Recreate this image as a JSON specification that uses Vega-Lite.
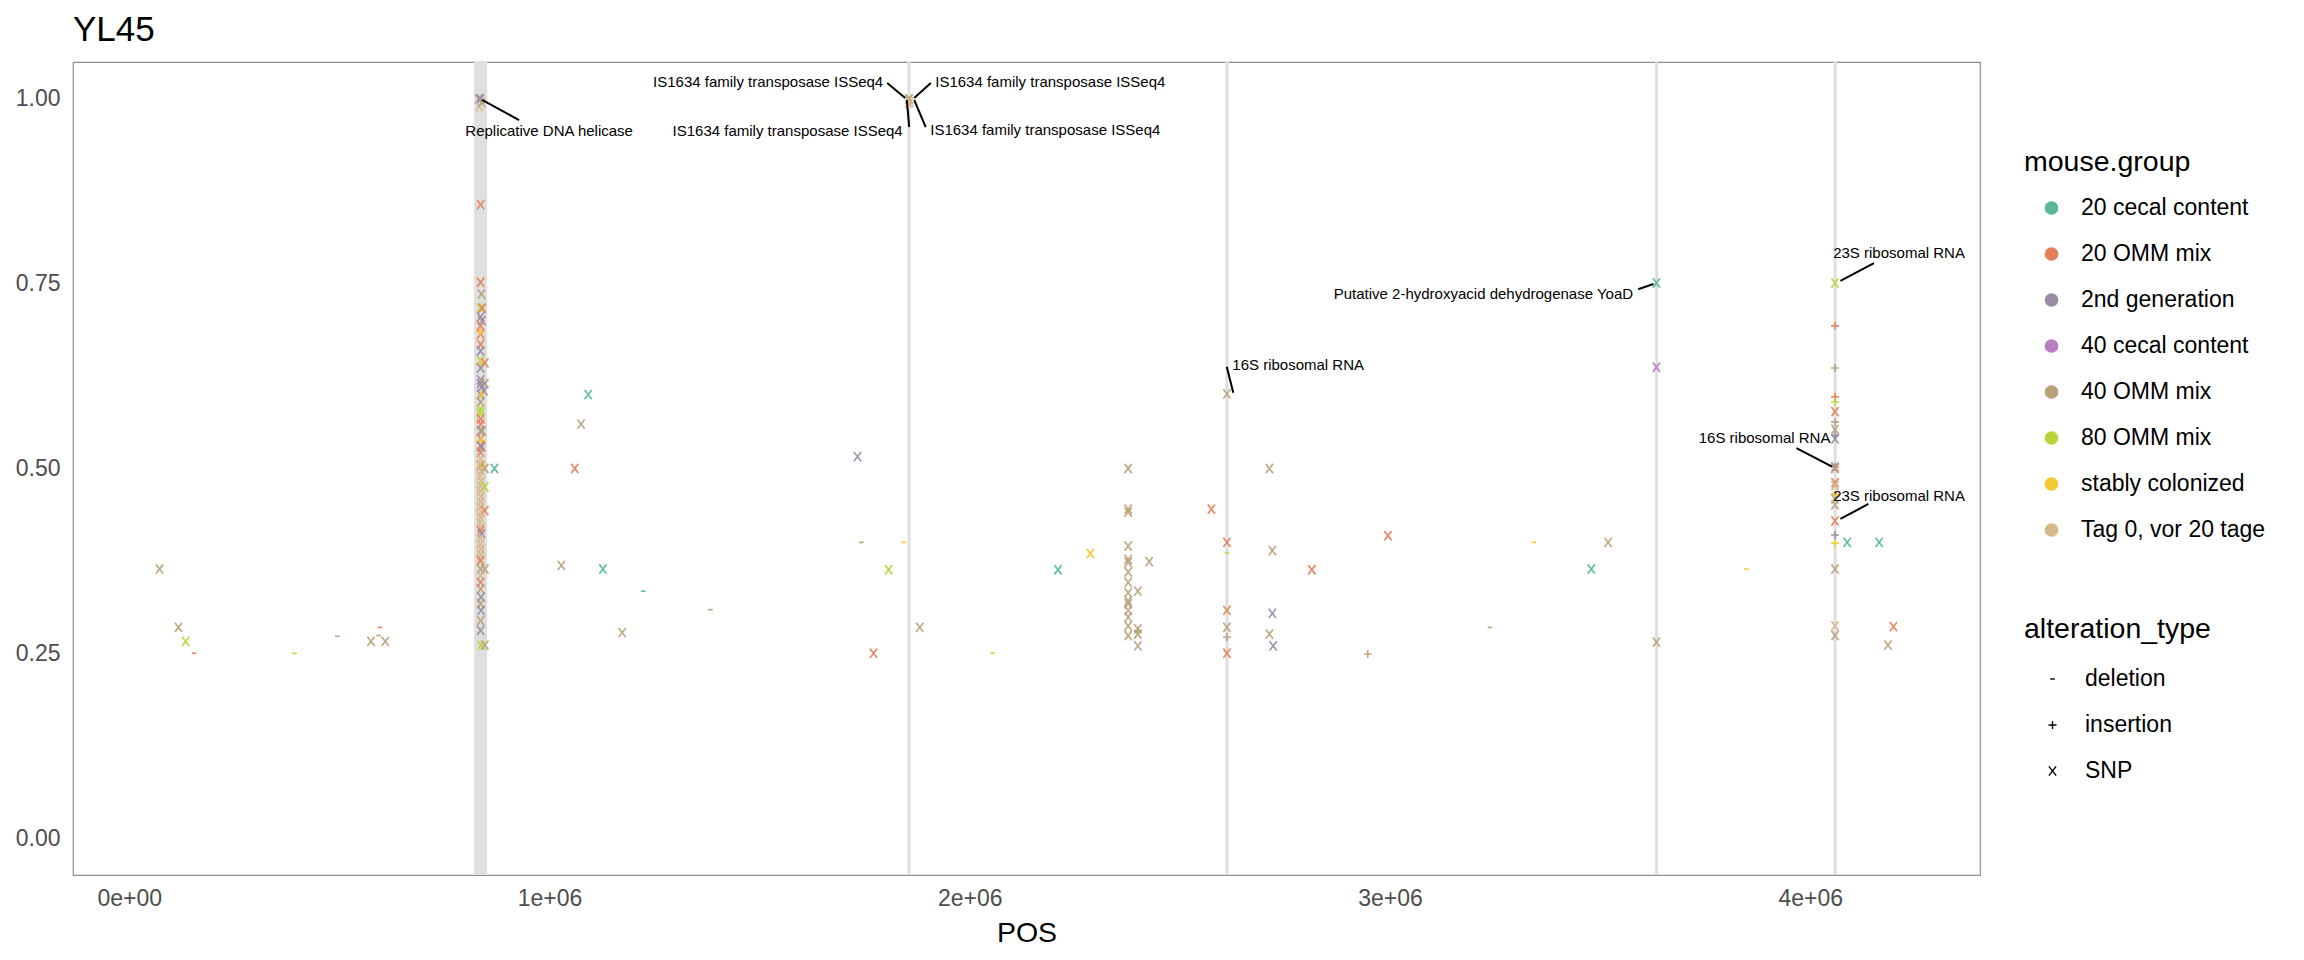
{
  "$schema": "https://vega.github.io/schema/vega-lite/v6.json",
  "width": 1907,
  "height": 813,
  "autosize": {"type": "none"},
  "padding": {"left": 73, "top": 62, "right": 324, "bottom": 85},
  "background": "white",
  "title": {"text": "YL45", "anchor": "start", "frame": "group", "fontSize": 35, "fontWeight": "normal", "font": "Liberation Sans", "color": "black", "offset": 13},
  "config": {
    "font": "Liberation Sans",
    "view": {"stroke": "#8f8f8f", "strokeWidth": 1.2},
    "axis": {"grid": false, "ticks": false, "tickSize": 0, "domain": false, "labelFont": "Liberation Sans", "labelFontSize": 23, "labelColor": "#4d4d4d", "titleFont": "Liberation Sans", "titleFontSize": 28.5, "titleFontWeight": "normal", "titleColor": "black"},
    "legend": {"padding": 0, "titleFont": "Liberation Sans", "titleFontSize": 28.5, "titleFontWeight": "normal", "titleColor": "black", "labelFont": "Liberation Sans", "labelFontSize": 23, "labelColor": "black", "labelLimit": 400, "titleLimit": 400, "symbolOpacity": 1}
  },
  "datasets": {
    "band": [{"start": 820500, "end": 851500}],
    "vlines": [{"pos": 1855200}, {"pos": 2612100}, {"pos": 3634400}, {"pos": 4059300}],
    "segs": [
      {"pos": 839500, "af": 0.9986, "pos2": 927600, "af2": 0.9715},
      {"pos": 1803500, "af": 1.0216, "pos2": 1846400, "af2": 1.0013},
      {"pos": 1907300, "af": 1.0216, "pos2": 1867800, "af2": 1.0013},
      {"pos": 1850200, "af": 0.9986, "pos2": 1855900, "af2": 0.962},
      {"pos": 1867800, "af": 0.9986, "pos2": 1895200, "af2": 0.962},
      {"pos": 2611600, "af": 0.6377, "pos2": 2627100, "af2": 0.6026},
      {"pos": 3590700, "af": 0.7425, "pos2": 3626800, "af2": 0.7496},
      {"pos": 4151700, "af": 0.778, "pos2": 4071900, "af2": 0.7537},
      {"pos": 3967200, "af": 0.5277, "pos2": 4051900, "af2": 0.5024},
      {"pos": 4138400, "af": 0.452, "pos2": 4071900, "af2": 0.4317}
    ],
    "labelsL": [
      {"pos": 1917800, "af": 1.023, "label": "IS1634 family transposase ISSeq4"},
      {"pos": 1905900, "af": 0.958, "label": "IS1634 family transposase ISSeq4"},
      {"pos": 2624700, "af": 0.640, "label": "16S ribosomal RNA"},
      {"pos": 4054600, "af": 0.792, "label": "23S ribosomal RNA"},
      {"pos": 4054600, "af": 0.463, "label": "23S ribosomal RNA"}
    ],
    "labelsR": [
      {"pos": 1794000, "af": 1.023, "label": "IS1634 family transposase ISSeq4"},
      {"pos": 1840400, "af": 0.957, "label": "IS1634 family transposase ISSeq4"},
      {"pos": 3578500, "af": 0.736, "label": "Putative 2-hydroxyacid dehydrogenase YoaD"},
      {"pos": 4048100, "af": 0.541, "label": "16S ribosomal RNA"}
    ],
    "labelsC": [
      {"pos": 999000, "af": 0.957, "label": "Replicative DNA helicase"}
    ],
    "pts": [
      {"pos": 72000, "af": 0.364, "group": "40 OMM mix", "type": "SNP"},
      {"pos": 117000, "af": 0.285, "group": "40 OMM mix", "type": "SNP"},
      {"pos": 134000, "af": 0.266, "group": "80 OMM mix", "type": "SNP"},
      {"pos": 154000, "af": 0.250, "group": "20 OMM mix", "type": "deletion"},
      {"pos": 393000, "af": 0.250, "group": "80 OMM mix", "type": "deletion"},
      {"pos": 495000, "af": 0.273, "group": "40 OMM mix", "type": "deletion"},
      {"pos": 575000, "af": 0.266, "group": "40 OMM mix", "type": "SNP"},
      {"pos": 596000, "af": 0.285, "group": "20 OMM mix", "type": "deletion"},
      {"pos": 593000, "af": 0.274, "group": "40 OMM mix", "type": "deletion"},
      {"pos": 609000, "af": 0.266, "group": "40 OMM mix", "type": "SNP"},
      {"pos": 832000, "af": 1.000, "group": "2nd generation", "type": "SNP"},
      {"pos": 836000, "af": 1.000, "group": "2nd generation", "type": "SNP"},
      {"pos": 833000, "af": 0.990, "group": "Tag 0, vor 20 tage", "type": "SNP"},
      {"pos": 838000, "af": 0.995, "group": "40 OMM mix", "type": "SNP"},
      {"pos": 836000, "af": 0.857, "group": "20 OMM mix", "type": "SNP"},
      {"pos": 836000, "af": 0.752, "group": "20 OMM mix", "type": "SNP"},
      {"pos": 838000, "af": 0.736, "group": "40 OMM mix", "type": "SNP"},
      {"pos": 836000, "af": 0.717, "group": "80 OMM mix", "type": "SNP"},
      {"pos": 840000, "af": 0.717, "group": "20 OMM mix", "type": "SNP"},
      {"pos": 836000, "af": 0.705, "group": "2nd generation", "type": "SNP"},
      {"pos": 839000, "af": 0.700, "group": "2nd generation", "type": "SNP"},
      {"pos": 836000, "af": 0.693, "group": "20 OMM mix", "type": "SNP"},
      {"pos": 836000, "af": 0.682, "group": "20 OMM mix", "type": "SNP"},
      {"pos": 835000, "af": 0.685, "group": "stably colonized", "type": "insertion"},
      {"pos": 836000, "af": 0.668, "group": "20 OMM mix", "type": "SNP"},
      {"pos": 836000, "af": 0.659, "group": "2nd generation", "type": "SNP"},
      {"pos": 836000, "af": 0.646, "group": "80 OMM mix", "type": "SNP"},
      {"pos": 846000, "af": 0.643, "group": "20 OMM mix", "type": "SNP"},
      {"pos": 835000, "af": 0.642, "group": "stably colonized", "type": "insertion"},
      {"pos": 836000, "af": 0.636, "group": "2nd generation", "type": "SNP"},
      {"pos": 836000, "af": 0.620, "group": "2nd generation", "type": "SNP"},
      {"pos": 836000, "af": 0.615, "group": "2nd generation", "type": "SNP"},
      {"pos": 846000, "af": 0.615, "group": "40 OMM mix", "type": "SNP"},
      {"pos": 838000, "af": 0.610, "group": "2nd generation", "type": "SNP"},
      {"pos": 844000, "af": 0.605, "group": "2nd generation", "type": "SNP"},
      {"pos": 836000, "af": 0.600, "group": "2nd generation", "type": "SNP"},
      {"pos": 838000, "af": 0.600, "group": "stably colonized", "type": "insertion"},
      {"pos": 836000, "af": 0.590, "group": "40 OMM mix", "type": "SNP"},
      {"pos": 836000, "af": 0.580, "group": "80 OMM mix", "type": "SNP"},
      {"pos": 836000, "af": 0.575, "group": "80 OMM mix", "type": "SNP"},
      {"pos": 836000, "af": 0.567, "group": "20 OMM mix", "type": "SNP"},
      {"pos": 836000, "af": 0.560, "group": "20 OMM mix", "type": "SNP"},
      {"pos": 836000, "af": 0.551, "group": "2nd generation", "type": "SNP"},
      {"pos": 840000, "af": 0.551, "group": "40 OMM mix", "type": "SNP"},
      {"pos": 836000, "af": 0.540, "group": "20 OMM mix", "type": "SNP"},
      {"pos": 838000, "af": 0.538, "group": "stably colonized", "type": "insertion"},
      {"pos": 836000, "af": 0.531, "group": "20 OMM mix", "type": "SNP"},
      {"pos": 838000, "af": 0.529, "group": "2nd generation", "type": "SNP"},
      {"pos": 836000, "af": 0.522, "group": "20 OMM mix", "type": "SNP"},
      {"pos": 836000, "af": 0.513, "group": "Tag 0, vor 20 tage", "type": "SNP"},
      {"pos": 838000, "af": 0.505, "group": "stably colonized", "type": "insertion"},
      {"pos": 836000, "af": 0.504, "group": "20 OMM mix", "type": "SNP"},
      {"pos": 835000, "af": 0.505, "group": "Tag 0, vor 20 tage", "type": "SNP"},
      {"pos": 846000, "af": 0.500, "group": "40 OMM mix", "type": "SNP"},
      {"pos": 837000, "af": 0.497, "group": "Tag 0, vor 20 tage", "type": "SNP"},
      {"pos": 835000, "af": 0.490, "group": "Tag 0, vor 20 tage", "type": "SNP"},
      {"pos": 837000, "af": 0.483, "group": "Tag 0, vor 20 tage", "type": "SNP"},
      {"pos": 836000, "af": 0.476, "group": "Tag 0, vor 20 tage", "type": "SNP"},
      {"pos": 846000, "af": 0.475, "group": "80 OMM mix", "type": "SNP"},
      {"pos": 835000, "af": 0.469, "group": "Tag 0, vor 20 tage", "type": "SNP"},
      {"pos": 837000, "af": 0.462, "group": "Tag 0, vor 20 tage", "type": "SNP"},
      {"pos": 836000, "af": 0.455, "group": "Tag 0, vor 20 tage", "type": "SNP"},
      {"pos": 835000, "af": 0.448, "group": "Tag 0, vor 20 tage", "type": "SNP"},
      {"pos": 846000, "af": 0.443, "group": "20 OMM mix", "type": "SNP"},
      {"pos": 837000, "af": 0.441, "group": "Tag 0, vor 20 tage", "type": "SNP"},
      {"pos": 836000, "af": 0.434, "group": "Tag 0, vor 20 tage", "type": "SNP"},
      {"pos": 835000, "af": 0.427, "group": "Tag 0, vor 20 tage", "type": "SNP"},
      {"pos": 837000, "af": 0.420, "group": "Tag 0, vor 20 tage", "type": "SNP"},
      {"pos": 836000, "af": 0.416, "group": "20 OMM mix", "type": "SNP"},
      {"pos": 838000, "af": 0.412, "group": "2nd generation", "type": "SNP"},
      {"pos": 836000, "af": 0.405, "group": "Tag 0, vor 20 tage", "type": "SNP"},
      {"pos": 835000, "af": 0.398, "group": "Tag 0, vor 20 tage", "type": "SNP"},
      {"pos": 837000, "af": 0.391, "group": "Tag 0, vor 20 tage", "type": "SNP"},
      {"pos": 836000, "af": 0.384, "group": "Tag 0, vor 20 tage", "type": "SNP"},
      {"pos": 835000, "af": 0.378, "group": "Tag 0, vor 20 tage", "type": "SNP"},
      {"pos": 836000, "af": 0.375, "group": "20 OMM mix", "type": "SNP"},
      {"pos": 836000, "af": 0.364, "group": "40 OMM mix", "type": "SNP"},
      {"pos": 846000, "af": 0.364, "group": "40 OMM mix", "type": "SNP"},
      {"pos": 836000, "af": 0.355, "group": "Tag 0, vor 20 tage", "type": "SNP"},
      {"pos": 836000, "af": 0.346, "group": "20 OMM mix", "type": "SNP"},
      {"pos": 836000, "af": 0.337, "group": "40 OMM mix", "type": "SNP"},
      {"pos": 837000, "af": 0.326, "group": "2nd generation", "type": "SNP"},
      {"pos": 836000, "af": 0.317, "group": "40 OMM mix", "type": "SNP"},
      {"pos": 837000, "af": 0.308, "group": "2nd generation", "type": "SNP"},
      {"pos": 836000, "af": 0.294, "group": "40 OMM mix", "type": "SNP"},
      {"pos": 836000, "af": 0.281, "group": "2nd generation", "type": "SNP"},
      {"pos": 837000, "af": 0.261, "group": "80 OMM mix", "type": "SNP"},
      {"pos": 846000, "af": 0.261, "group": "40 OMM mix", "type": "SNP"},
      {"pos": 869000, "af": 0.500, "group": "20 cecal content", "type": "SNP"},
      {"pos": 1060000, "af": 0.500, "group": "20 OMM mix", "type": "SNP"},
      {"pos": 1075000, "af": 0.560, "group": "40 OMM mix", "type": "SNP"},
      {"pos": 1092000, "af": 0.600, "group": "20 cecal content", "type": "SNP"},
      {"pos": 1028000, "af": 0.369, "group": "40 OMM mix", "type": "SNP"},
      {"pos": 1127000, "af": 0.364, "group": "20 cecal content", "type": "SNP"},
      {"pos": 1223000, "af": 0.334, "group": "20 cecal content", "type": "deletion"},
      {"pos": 1173000, "af": 0.278, "group": "40 OMM mix", "type": "SNP"},
      {"pos": 1383000, "af": 0.309, "group": "40 OMM mix", "type": "deletion"},
      {"pos": 1733000, "af": 0.516, "group": "2nd generation", "type": "SNP"},
      {"pos": 1742000, "af": 0.400, "group": "40 OMM mix", "type": "deletion"},
      {"pos": 1843000, "af": 0.400, "group": "stably colonized", "type": "deletion"},
      {"pos": 1807000, "af": 0.363, "group": "80 OMM mix", "type": "SNP"},
      {"pos": 1771000, "af": 0.250, "group": "20 OMM mix", "type": "SNP"},
      {"pos": 1881000, "af": 0.285, "group": "40 OMM mix", "type": "SNP"},
      {"pos": 2054000, "af": 0.250, "group": "80 OMM mix", "type": "deletion"},
      {"pos": 2210000, "af": 0.363, "group": "20 cecal content", "type": "SNP"},
      {"pos": 2287000, "af": 0.385, "group": "stably colonized", "type": "SNP"},
      {"pos": 1854000, "af": 1.000, "group": "Tag 0, vor 20 tage", "type": "SNP"},
      {"pos": 1856000, "af": 1.000, "group": "40 OMM mix", "type": "SNP"},
      {"pos": 1855000, "af": 0.994, "group": "Tag 0, vor 20 tage", "type": "SNP"},
      {"pos": 1857000, "af": 0.996, "group": "Tag 0, vor 20 tage", "type": "SNP"},
      {"pos": 2377000, "af": 0.500, "group": "40 OMM mix", "type": "SNP"},
      {"pos": 2377000, "af": 0.445, "group": "40 OMM mix", "type": "SNP"},
      {"pos": 2377000, "af": 0.441, "group": "40 OMM mix", "type": "SNP"},
      {"pos": 2377000, "af": 0.395, "group": "40 OMM mix", "type": "SNP"},
      {"pos": 2377000, "af": 0.377, "group": "40 OMM mix", "type": "SNP"},
      {"pos": 2377000, "af": 0.373, "group": "40 OMM mix", "type": "SNP"},
      {"pos": 2377000, "af": 0.360, "group": "40 OMM mix", "type": "SNP"},
      {"pos": 2377000, "af": 0.346, "group": "40 OMM mix", "type": "SNP"},
      {"pos": 2377000, "af": 0.332, "group": "40 OMM mix", "type": "SNP"},
      {"pos": 2377000, "af": 0.321, "group": "40 OMM mix", "type": "SNP"},
      {"pos": 2377000, "af": 0.317, "group": "40 OMM mix", "type": "SNP"},
      {"pos": 2377000, "af": 0.308, "group": "40 OMM mix", "type": "SNP"},
      {"pos": 2377000, "af": 0.299, "group": "40 OMM mix", "type": "SNP"},
      {"pos": 2377000, "af": 0.287, "group": "40 OMM mix", "type": "SNP"},
      {"pos": 2377000, "af": 0.274, "group": "40 OMM mix", "type": "SNP"},
      {"pos": 2400000, "af": 0.334, "group": "40 OMM mix", "type": "SNP"},
      {"pos": 2400000, "af": 0.283, "group": "40 OMM mix", "type": "SNP"},
      {"pos": 2400000, "af": 0.276, "group": "40 OMM mix", "type": "SNP"},
      {"pos": 2400000, "af": 0.260, "group": "40 OMM mix", "type": "SNP"},
      {"pos": 2400000, "af": 0.280, "group": "40 OMM mix", "type": "insertion"},
      {"pos": 2427000, "af": 0.374, "group": "40 OMM mix", "type": "SNP"},
      {"pos": 2575000, "af": 0.445, "group": "20 OMM mix", "type": "SNP"},
      {"pos": 2612000, "af": 0.601, "group": "40 OMM mix", "type": "SNP"},
      {"pos": 2612000, "af": 0.400, "group": "20 OMM mix", "type": "SNP"},
      {"pos": 2612000, "af": 0.386, "group": "80 OMM mix", "type": "deletion"},
      {"pos": 2612000, "af": 0.308, "group": "20 OMM mix", "type": "SNP"},
      {"pos": 2612000, "af": 0.285, "group": "40 OMM mix", "type": "SNP"},
      {"pos": 2612000, "af": 0.272, "group": "40 OMM mix", "type": "insertion"},
      {"pos": 2612000, "af": 0.250, "group": "20 OMM mix", "type": "SNP"},
      {"pos": 2713000, "af": 0.500, "group": "40 OMM mix", "type": "SNP"},
      {"pos": 2720000, "af": 0.389, "group": "40 OMM mix", "type": "SNP"},
      {"pos": 2720000, "af": 0.304, "group": "2nd generation", "type": "SNP"},
      {"pos": 2713000, "af": 0.276, "group": "40 OMM mix", "type": "SNP"},
      {"pos": 2722000, "af": 0.260, "group": "2nd generation", "type": "SNP"},
      {"pos": 2814000, "af": 0.363, "group": "20 OMM mix", "type": "SNP"},
      {"pos": 2995000, "af": 0.409, "group": "20 OMM mix", "type": "SNP"},
      {"pos": 2947000, "af": 0.249, "group": "40 OMM mix", "type": "insertion"},
      {"pos": 3238000, "af": 0.285, "group": "40 OMM mix", "type": "deletion"},
      {"pos": 3342000, "af": 0.400, "group": "stably colonized", "type": "deletion"},
      {"pos": 3519000, "af": 0.400, "group": "40 OMM mix", "type": "SNP"},
      {"pos": 3479000, "af": 0.364, "group": "20 cecal content", "type": "SNP"},
      {"pos": 3848000, "af": 0.364, "group": "stably colonized", "type": "deletion"},
      {"pos": 3634000, "af": 0.751, "group": "20 cecal content", "type": "SNP"},
      {"pos": 3634000, "af": 0.637, "group": "40 cecal content", "type": "SNP"},
      {"pos": 3634000, "af": 0.265, "group": "40 OMM mix", "type": "SNP"},
      {"pos": 4059000, "af": 0.751, "group": "80 OMM mix", "type": "SNP"},
      {"pos": 4059000, "af": 0.693, "group": "20 OMM mix", "type": "insertion"},
      {"pos": 4059000, "af": 0.636, "group": "40 OMM mix", "type": "insertion"},
      {"pos": 4059000, "af": 0.597, "group": "20 OMM mix", "type": "insertion"},
      {"pos": 4059000, "af": 0.590, "group": "80 OMM mix", "type": "insertion"},
      {"pos": 4059000, "af": 0.577, "group": "20 OMM mix", "type": "SNP"},
      {"pos": 4059000, "af": 0.563, "group": "40 OMM mix", "type": "insertion"},
      {"pos": 4059000, "af": 0.553, "group": "40 OMM mix", "type": "SNP"},
      {"pos": 4059000, "af": 0.545, "group": "2nd generation", "type": "insertion"},
      {"pos": 4059000, "af": 0.540, "group": "2nd generation", "type": "SNP"},
      {"pos": 4059000, "af": 0.502, "group": "20 OMM mix", "type": "insertion"},
      {"pos": 4059000, "af": 0.502, "group": "2nd generation", "type": "SNP"},
      {"pos": 4059000, "af": 0.500, "group": "40 OMM mix", "type": "SNP"},
      {"pos": 4059000, "af": 0.481, "group": "20 OMM mix", "type": "SNP"},
      {"pos": 4059000, "af": 0.477, "group": "Tag 0, vor 20 tage", "type": "SNP"},
      {"pos": 4059000, "af": 0.465, "group": "stably colonized", "type": "insertion"},
      {"pos": 4059000, "af": 0.459, "group": "40 OMM mix", "type": "SNP"},
      {"pos": 4059000, "af": 0.451, "group": "40 OMM mix", "type": "SNP"},
      {"pos": 4059000, "af": 0.429, "group": "20 OMM mix", "type": "SNP"},
      {"pos": 4059000, "af": 0.410, "group": "2nd generation", "type": "insertion"},
      {"pos": 4059000, "af": 0.399, "group": "stably colonized", "type": "insertion"},
      {"pos": 4059000, "af": 0.364, "group": "40 OMM mix", "type": "SNP"},
      {"pos": 4059000, "af": 0.287, "group": "Tag 0, vor 20 tage", "type": "SNP"},
      {"pos": 4059000, "af": 0.274, "group": "40 OMM mix", "type": "SNP"},
      {"pos": 4088000, "af": 0.400, "group": "20 cecal content", "type": "SNP"},
      {"pos": 4164000, "af": 0.400, "group": "20 cecal content", "type": "SNP"},
      {"pos": 4198000, "af": 0.286, "group": "20 OMM mix", "type": "SNP"},
      {"pos": 4185000, "af": 0.261, "group": "40 OMM mix", "type": "SNP"}
    ]
  },
  "layer": [
    {
      "data": {"name": "band"},
      "mark": {"type": "rect", "color": "#dfdfdf"},
      "encoding": {
        "x": {"field": "start", "type": "quantitative", "title": "POS",
              "scale": {"domain": [-134000, 4404000], "nice": false, "zero": false},
              "axis": {"values": [0, 1000000, 2000000, 3000000, 4000000], "labelExpr": "datum.value == 0 ? '0e+00' : format(datum.value / 1000000, 'd') + 'e+06'", "labelPadding": 12, "titlePadding": 8, "labelFlush": false}},
        "x2": {"field": "end"},
        "y": {"datum": 1.05, "type": "quantitative", "title": null,
              "scale": {"domain": [-0.05, 1.05], "nice": false, "zero": false},
              "axis": {"values": [0, 0.25, 0.5, 0.75, 1], "format": ".2f", "labelPadding": 13, "title": null}},
        "y2": {"datum": -0.05}
      }
    },
    {
      "data": {"name": "vlines"},
      "mark": {"type": "rule", "color": "#dedede", "strokeWidth": 3},
      "encoding": {
        "x": {"field": "pos", "type": "quantitative", "title": "POS"}
      }
    },
    {
      "data": {"name": "pts"},
      "mark": {"type": "point", "filled": true, "strokeWidth": 1.7, "size": 86, "opacity": 0.9},
      "encoding": {
        "x": {"field": "pos", "type": "quantitative", "title": "POS"},
        "y": {"field": "af", "type": "quantitative", "title": null},
        "color": {"field": "group", "type": "nominal",
          "scale": {"domain": ["20 cecal content", "20 OMM mix", "2nd generation", "40 cecal content", "40 OMM mix", "80 OMM mix", "stably colonized", "Tag 0, vor 20 tage"],
                    "range": ["#55ba95", "#e5805a", "#9b8ba5", "#b87dc0", "#b9a17a", "#bad43b", "#f3c934", "#d8b888"]},
          "legend": {"title": "mouse.group", "orient": "none", "legendX": 1951, "legendY": 86, "symbolType": "circle", "symbolSize": 150, "symbolOffset": 16, "labelOffset": 18, "rowPadding": 22, "titlePadding": 20}},
        "stroke": {"field": "group", "type": "nominal",
          "scale": {"domain": ["20 cecal content", "20 OMM mix", "2nd generation", "40 cecal content", "40 OMM mix", "80 OMM mix", "stably colonized", "Tag 0, vor 20 tage"],
                    "range": ["#55ba95", "#e5805a", "#9b8ba5", "#b87dc0", "#b9a17a", "#bad43b", "#f3c934", "#d8b888"]},
          "legend": null},
        "shape": {"field": "type", "type": "nominal",
          "scale": {"domain": ["deletion", "insertion", "SNP"],
                    "range": ["M-0.5,0L0.5,0", "M-0.86,0L0.86,0M0,-0.86L0,0.86", "M-0.78,-1L0.78,1M0.78,-1L-0.78,1"]},
          "legend": {"title": "alteration_type", "orient": "none", "legendX": 1951, "legendY": 553, "symbolSize": 86, "symbolOffset": 17, "labelOffset": 21, "rowPadding": 22, "titlePadding": 24, "symbolStrokeColor": "black", "symbolFillColor": "transparent", "symbolStrokeWidth": 1.4}}
      }
    },
    {
      "data": {"name": "segs"},
      "mark": {"type": "rule", "color": "black", "strokeWidth": 2},
      "encoding": {
        "x": {"field": "pos", "type": "quantitative", "title": "POS"},
        "x2": {"field": "pos2"},
        "y": {"field": "af", "type": "quantitative", "title": null},
        "y2": {"field": "af2"}
      }
    },
    {
      "data": {"name": "labelsL"},
      "mark": {"type": "text", "align": "left", "baseline": "middle", "fontSize": 15, "font": "Liberation Sans", "color": "black"},
      "encoding": {
        "x": {"field": "pos", "type": "quantitative", "title": "POS"},
        "y": {"field": "af", "type": "quantitative", "title": null},
        "text": {"field": "label"}
      }
    },
    {
      "data": {"name": "labelsR"},
      "mark": {"type": "text", "align": "right", "baseline": "middle", "fontSize": 15, "font": "Liberation Sans", "color": "black"},
      "encoding": {
        "x": {"field": "pos", "type": "quantitative", "title": "POS"},
        "y": {"field": "af", "type": "quantitative", "title": null},
        "text": {"field": "label"}
      }
    },
    {
      "data": {"name": "labelsC"},
      "mark": {"type": "text", "align": "center", "baseline": "middle", "fontSize": 15, "font": "Liberation Sans", "color": "black"},
      "encoding": {
        "x": {"field": "pos", "type": "quantitative", "title": "POS"},
        "y": {"field": "af", "type": "quantitative", "title": null},
        "text": {"field": "label"}
      }
    }
  ]
}
